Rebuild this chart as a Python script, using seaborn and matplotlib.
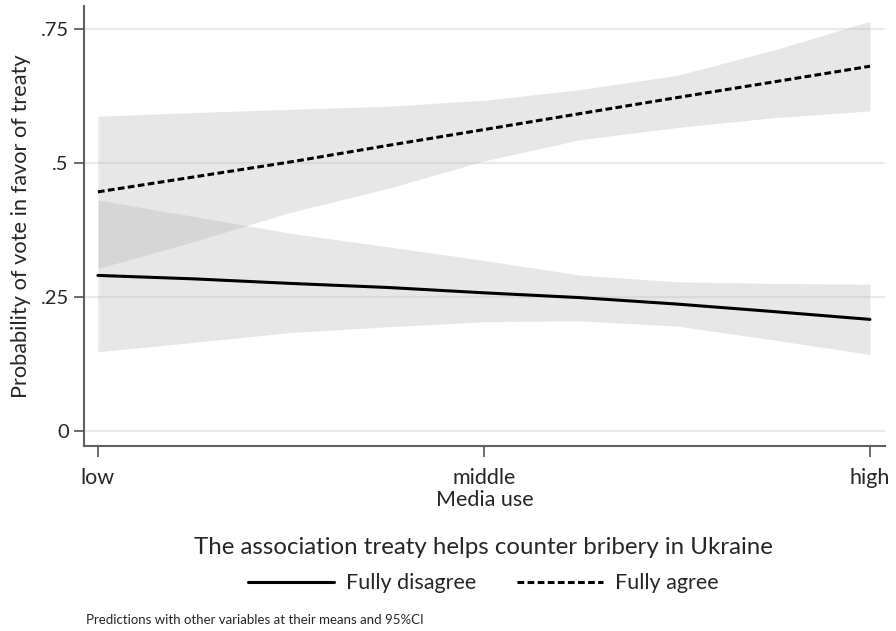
import numpy as np
import pandas as pd
import matplotlib
matplotlib.use("Agg")
import matplotlib.pyplot as plt
import seaborn as sns

# Predicted probabilities over media use (0 = low, 1 = middle, 2 = high)
media_use = [0.0, 0.25, 0.5, 0.75, 1.0, 1.25, 1.5, 1.75, 2.0]
tick_positions = [0, 1, 2]
tick_labels = ["low", "middle", "high"]

disagree_pred = [0.2905, 0.284, 0.2755, 0.268, 0.258, 0.249, 0.237, 0.223, 0.2084]
disagree_lo = [0.148, 0.1655, 0.184, 0.1946, 0.204, 0.2058, 0.196, 0.170, 0.143]
disagree_hi = [0.431, 0.4005, 0.369, 0.344, 0.3185, 0.291, 0.2786, 0.2755, 0.274]

agree_pred = [0.4465, 0.4745, 0.5025, 0.533, 0.5627, 0.5927, 0.6225, 0.6517, 0.681]
agree_lo = [0.3035, 0.354, 0.4086, 0.4527, 0.5043, 0.544, 0.5666, 0.585, 0.5976]
agree_hi = [0.5877, 0.5946, 0.6007, 0.6063, 0.6175, 0.6375, 0.664, 0.711, 0.765]

groups = ["Fully disagree", "Fully agree"]

df = pd.DataFrame({
    "media": media_use * 2,
    "prob": disagree_pred + agree_pred,
    "group": [groups[0]] * len(media_use) + [groups[1]] * len(media_use),
})

sns.set_theme(style="white")
plt.rcParams["font.family"] = ["Lato", "DejaVu Sans"]

fig = plt.figure(figsize=(8.96, 6.31), dpi=100)
ax = fig.add_axes([84 / 896, 1 - 446 / 631, (885 - 84) / 896, (446 - 6) / 631])

# confidence bands
band_kw = dict(color="#b0b0b0", alpha=0.3, linewidth=0, zorder=1)
ax.fill_between(media_use, disagree_lo, disagree_hi, **band_kw)
ax.fill_between(media_use, agree_lo, agree_hi, **band_kw)

sns.lineplot(
    data=df, x="media", y="prob", hue="group", style="group",
    palette={groups[0]: "black", groups[1]: "black"},
    dashes={groups[0]: "", groups[1]: (2.2, 1.1)},
    linewidth=2.2, ax=ax, legend=False, zorder=3,
)

ax.set_xlim(-0.036, 2.039)
ax.set_ylim(-0.028, 0.7935)
ax.set_yticks([0, 0.25, 0.5, 0.75])
ax.set_yticklabels(["0", ".25", ".5", ".75"])
ax.set_xticks(tick_positions)
ax.set_xticklabels(tick_labels)

ax.grid(axis="y", color="#ebebeb", linewidth=1.6, zorder=0)
ax.grid(axis="x", visible=False)
ax.set_axisbelow(True)

for side in ["top", "right"]:
    ax.spines[side].set_visible(False)
for side in ["left", "bottom"]:
    ax.spines[side].set_color("#606060")
    ax.spines[side].set_linewidth(1.5)

ax.tick_params(axis="y", direction="out", length=7, width=1.3, color="#606060",
               labelsize=14.5, pad=4, left=True)
ax.tick_params(axis="x", direction="out", length=8, width=1.3, color="#606060",
               labelsize=15.5, pad=8, bottom=True)

ax.set_xlabel("Media use", fontsize=15.5, labelpad=1)
ax.set_ylabel("Probability of vote in favor of treaty", fontsize=15.7, labelpad=7)

handles = [
    plt.Line2D([], [], color="black", linewidth=2.2),
    plt.Line2D([], [], color="black", linewidth=2.2, dashes=(2.2, 1.1)),
]
leg = fig.legend(
    handles, groups, title="The association treaty helps counter bribery in Ukraine",
    loc="center", bbox_to_anchor=(483 / 896, 1 - 565 / 631), ncol=2, frameon=False,
    handlelength=4.0, columnspacing=1.9, handletextpad=0.55, fontsize=15.5,
    title_fontsize=17.3,
)
leg._legend_box.sep = 11

fig.text(86 / 896, 1 - 620 / 631, "Predictions with other variables at their means and 95%CI",
         fontsize=9.5, va="center", ha="left")

fig.savefig("out.png", dpi=100)
